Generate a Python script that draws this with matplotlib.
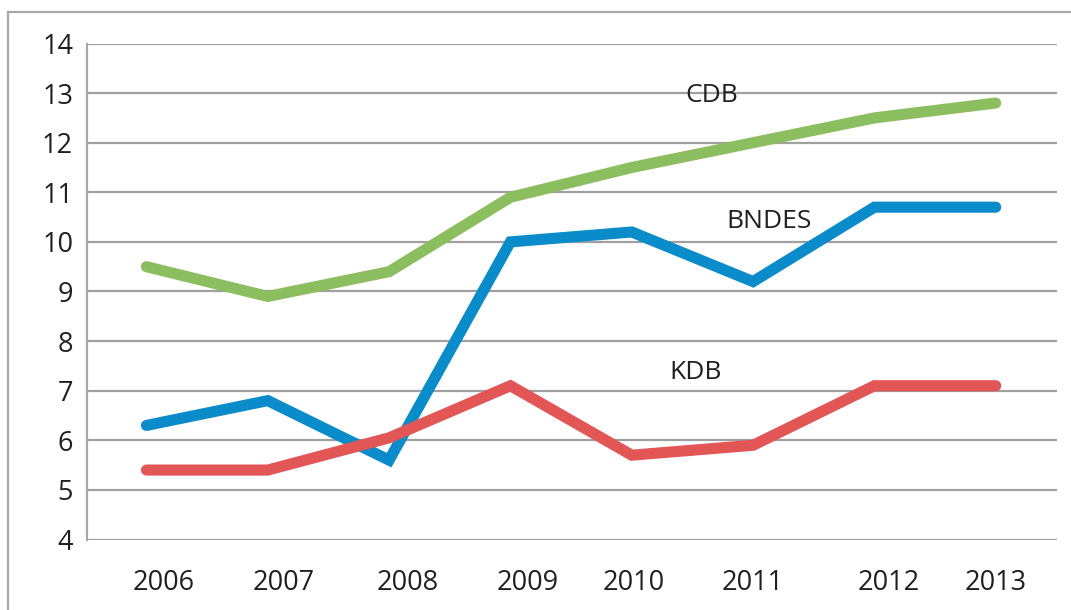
import matplotlib
matplotlib.use("Agg")
import matplotlib.pyplot as plt
from matplotlib.lines import Line2D

years = ["2006", "2007", "2008", "2009", "2010", "2011", "2012", "2013"]
cdb = [9.5, 8.9, 9.4, 10.9, 11.5, 12.0, 12.5, 12.8]
bndes = [6.3, 6.8, 5.6, 10.0, 10.2, 9.2, 10.7, 10.7]
kdb = [5.4, 5.4, 6.05, 7.1, 5.7, 5.9, 7.1, 7.1]
yticks = [4, 5, 6, 7, 8, 9, 10, 11, 12, 13, 14]

# label offsets (in category units) to mimic the original's placement
label_shift = [0.14, 0.13, 0.15, 0.14, 0.02, 0.0, 0.12, 0.0]

plt.rcParams['font.family'] = ['Open Sans', 'DejaVu Sans']
txt = '#231F20'

fig = plt.figure(figsize=(10.71, 6.10), dpi=100)
ax = fig.add_axes([87/1071, 1-539.5/610, (1057-87)/1071, (539.5-43.5)/610])

x = list(range(len(years)))
kw = dict(linewidth=8, solid_capstyle='round', solid_joinstyle='miter')
ax.plot(x, cdb, color='#8BBE5F', zorder=3, **kw)
ax.plot(x, bndes, color='#0A8BCA', zorder=3, **kw)
ax.plot(x, kdb, color='#E35656', zorder=4, **kw)

ax.set_xlim(-0.49, 7.505)
ax.set_ylim(4, 14)
ax.set_yticks(yticks)
ax.set_yticklabels([str(v) for v in yticks], fontsize=19.5, color=txt)
ax.tick_params(axis='y', length=0, pad=10)
ax.set_xticks([])
ax.yaxis.grid(True, color='#A0A0A0', linewidth=1.6)
ax.set_axisbelow(True)
for s in ['top', 'right', 'bottom']:
    ax.spines[s].set_visible(False)
ax.spines['left'].set_color('#A8A8A8')
ax.spines['left'].set_linewidth(1.6)

for i, (yr, sh) in enumerate(zip(years, label_shift)):
    ax.annotate(yr, xy=(i + sh, 0), xycoords=('data', 'axes fraction'),
                xytext=(0, -43), textcoords='offset pixels',
                ha='center', va='center', fontsize=19.5, color=txt,
                annotation_clip=False)

ax.text(4.66, 12.96, "CDB", ha='center', va='center', fontsize=19, color=txt)
ax.text(5.13, 10.41, "BNDES", ha='center', va='center', fontsize=19, color=txt)
ax.text(4.53, 7.37, "KDB", ha='center', va='center', fontsize=19, color=txt)

# outer frame lines (top and left)
fig.add_artist(Line2D([8/1071, 1.0], [1-12/610, 1-12/610], color='#A8A8A8', linewidth=1.6))
fig.add_artist(Line2D([8/1071, 8/1071], [0.0, 1-12/610], color='#A8A8A8', linewidth=1.6))

fig.savefig("out.png", dpi=100, facecolor='white')
